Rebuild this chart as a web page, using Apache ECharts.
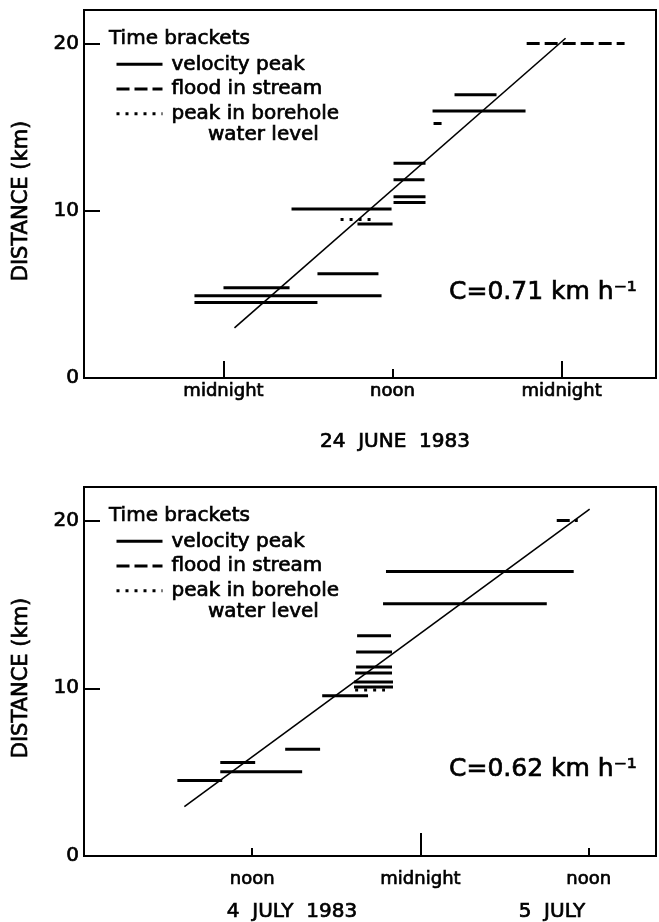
<!DOCTYPE html>
<html><head><meta charset="utf-8">
<script src="https://cdn.jsdelivr.net/npm/echarts@6/dist/echarts.min.js"></script>
<style>html,body{margin:0;padding:0;background:#fff}#c{width:659px;height:922px}</style>
</head><body><div id="c"></div>
<script>
// ---------- DATA (x = hours after midnight, y = distance km) ----------
// 24 June 1983 panel
const juneVelStart = [6.67, 0.00, -2.06, -2.06, 4.83, 9.51, 12.07, 12.07, 12.07, 12.07, 14.91, 14.84, 16.40];
const juneVelEnd   = [11.00, 4.69, 11.22, 6.67, 11.93, 12.00, 14.34, 14.34, 14.27, 14.34, 15.48, 21.44, 19.38];
const juneVelKm    = [6.23, 5.39, 4.91, 4.51, 10.11, 9.21, 10.49, 10.83, 11.85, 12.84, 15.22, 15.96, 16.94];
const juneFloodStart = [21.52], juneFloodEnd = [28.47], juneFloodKm = [20.0];
const juneBoreStart = [8.31], juneBoreEnd = [10.86], juneBoreKm = [9.47];
const juneFitHours = [0.78, 24.28], juneFitKm = [3.0, 20.31];
const juneTickHours = [0, 12, 24];
const juneTickLabels = ['midnight', 'noon', 'midnight'];
const juneSpeed = 'C=0.71 km h\u207B\u00B9';

// 4-5 July 1983 panel
const julyVelStart = [21.54, 21.33, 19.48, 19.41, 19.41, 19.34, 19.26, 19.26, 16.99, 14.35, 9.72, 9.72, 6.66];
const julyVelEnd   = [34.93, 33.01, 21.90, 21.97, 21.97, 21.97, 22.04, 22.04, 20.26, 16.84, 12.21, 15.56, 9.86];
const julyVelKm    = [16.96, 15.04, 13.13, 12.17, 11.27, 10.91, 10.37, 10.07, 9.56, 6.37, 5.57, 5.03, 4.50];
const julyFloodStart = [33.72], julyFloodEnd = [35.22], julyFloodKm = [20.0];
const julyBoreStart = [19.34], julyBoreEnd = [21.47], julyBoreKm = [9.89];
const julyFitHours = [7.16, 36.07], julyFitKm = [2.94, 20.68];
const julyTickHours = [12, 24, 36];
const julyTickLabels = ['noon', 'midnight', 'noon'];
const julySpeed = 'C=0.62 km h\u207B\u00B9';

const yTicks = [0, 10, 20];
const legendNames = ['velocity peak', 'flood in stream', 'peak in borehole'];

// ---------- BUILD ----------
const FONT = 'DejaVu Sans';
const BLACK = '#000';
const STROKE = {textBorderColor: '#000', textBorderWidth: 0.7};
const chart = echarts.init(document.getElementById('c'), null, {renderer: 'canvas'});

const grids = [
  {left: 84, top: 10, width: 572, height: 368},
  {left: 84, top: 487, width: 572, height: 369}
];
const xRanges = [[-9.9, 30.7], [0, 40.8]];
const tickHours = [juneTickHours, julyTickHours];
const tickLabels = [juneTickLabels, julyTickLabels];
const longTick = [17, 23], shortTick = [9, 8], labelMargin = [4, 14];

const xAxis = [], yAxis = [];
for (let g = 0; g < 2; g++) {
  const longVals = tickHours[g].filter((h, i) => tickLabels[g][i] === 'midnight');
  const shortVals = tickHours[g].filter((h, i) => tickLabels[g][i] !== 'midnight');
  [[longVals, longTick[g]], [shortVals, shortTick[g]]].forEach(([vals, len]) => {
    xAxis.push({
      type: 'value', gridIndex: g, position: 'bottom', min: xRanges[g][0], max: xRanges[g][1],
      axisLine: {show: true, onZero: false, lineStyle: {color: BLACK, width: 2}},
      splitLine: {show: false},
      axisTick: {show: true, inside: true, length: len, customValues: vals, lineStyle: {color: BLACK, width: 2}},
      axisLabel: Object.assign({show: true, customValues: vals, margin: labelMargin[g], color: BLACK, fontSize: 18, fontFamily: FONT,
        formatter: v => tickLabels[g][tickHours[g].indexOf(v)]}, STROKE)
    });
  });
  yAxis.push({
    type: 'value', gridIndex: g, position: 'left', min: 0, max: 22,
    axisLine: {show: true, onZero: false, lineStyle: {color: BLACK, width: 2}},
    splitLine: {show: false},
    axisTick: {show: true, inside: true, length: 16, customValues: yTicks, lineStyle: {color: BLACK, width: 2}},
    axisLabel: Object.assign({show: true, customValues: yTicks, margin: 5, color: BLACK, fontSize: 20, fontFamily: FONT}, STROKE)
  });
}

const series = [];
function addSegments(name, starts, ends, kms, g, lineStyle) {
  for (let i = 0; i < kms.length; i++) {
    series.push({
      type: 'line', name: name, xAxisIndex: g * 2, yAxisIndex: g,
      data: [[starts[i], kms[i]], [ends[i], kms[i]]],
      symbol: 'none', showSymbol: false, silent: true, animation: false,
      lineStyle: Object.assign({color: BLACK, cap: 'butt'}, lineStyle),
      itemStyle: {color: BLACK}
    });
  }
}
const velStyle = {width: 3, type: 'solid'};
const floodStyle = {width: 3, type: [13, 5]};
const boreStyle = {width: 3, type: [3, 6]};

addSegments('velocity peak', juneVelStart, juneVelEnd, juneVelKm, 0, velStyle);
addSegments('flood in stream', juneFloodStart, juneFloodEnd, juneFloodKm, 0, floodStyle);
addSegments('peak in borehole', juneBoreStart, juneBoreEnd, juneBoreKm, 0, boreStyle);
addSegments('velocity peak', julyVelStart, julyVelEnd, julyVelKm, 1, velStyle);
addSegments('flood in stream', julyFloodStart, julyFloodEnd, julyFloodKm, 1, floodStyle);
addSegments('peak in borehole', julyBoreStart, julyBoreEnd, julyBoreKm, 1, boreStyle);

[[juneFitHours, juneFitKm, 0], [julyFitHours, julyFitKm, 1]].forEach(([hs, ks, g]) => {
  series.push({
    type: 'line', name: 'fit', xAxisIndex: g * 2, yAxisIndex: g,
    data: hs.map((h, i) => [h, ks[i]]),
    symbol: 'none', showSymbol: false, silent: true, animation: false,
    lineStyle: {color: BLACK, width: 1.6}
  });
});

const legend = grids.map(gr => ({
  left: 110, top: gr.top + 39, orient: 'vertical',
  itemWidth: 46, itemHeight: 14, itemGap: 4,
  selectedMode: false, data: legendNames,
  itemStyle: {color: 'rgba(0,0,0,0)', borderWidth: 0, opacity: 0},
  lineStyle: {width: 3},
  textStyle: Object.assign({color: BLACK, fontSize: 20, fontFamily: FONT, padding: [0, 0, 0, 4]}, STROKE)
}));

function txt(x, y, text, size, opts) {
  return Object.assign({type: 'text', x: x, y: y, silent: true,
    style: Object.assign({text: text, fill: BLACK, fontSize: size, fontFamily: FONT, align: 'left', verticalAlign: 'middle',
      stroke: '#000', lineWidth: 0.7}, (opts && opts.style) || {})},
    opts && opts.rotation ? {rotation: opts.rotation} : {});
}
const graphic = [];
const speeds = [juneSpeed, julySpeed];
grids.forEach((gr, g) => {
  const off = gr.top - 10;
  graphic.push(txt(109, 39 + off, 'Time brackets', 20));
  graphic.push(txt(208, 135 + off, 'water level', 20));
  graphic.push(txt(449, 292 + off, speeds[g], 25));
  graphic.push(txt(22, 201 + off, 'DISTANCE (km)', 21, {rotation: Math.PI / 2, style: {align: 'center'}}));
});
graphic.push(txt(395, 442, '24  JUNE  1983', 20, {style: {align: 'center'}}));
graphic.push(txt(292, 912, '4  JULY  1983', 20, {style: {align: 'center'}}));
graphic.push(txt(552, 912, '5  JULY', 20, {style: {align: 'center'}}));

chart.setOption({
  animation: false,
  backgroundColor: '#fff',
  grid: grids.map(gr => Object.assign({show: true, borderColor: BLACK, borderWidth: 2, containLabel: false}, gr)),
  xAxis: xAxis, yAxis: yAxis, series: series, legend: legend, graphic: graphic
});
</script></body></html>
